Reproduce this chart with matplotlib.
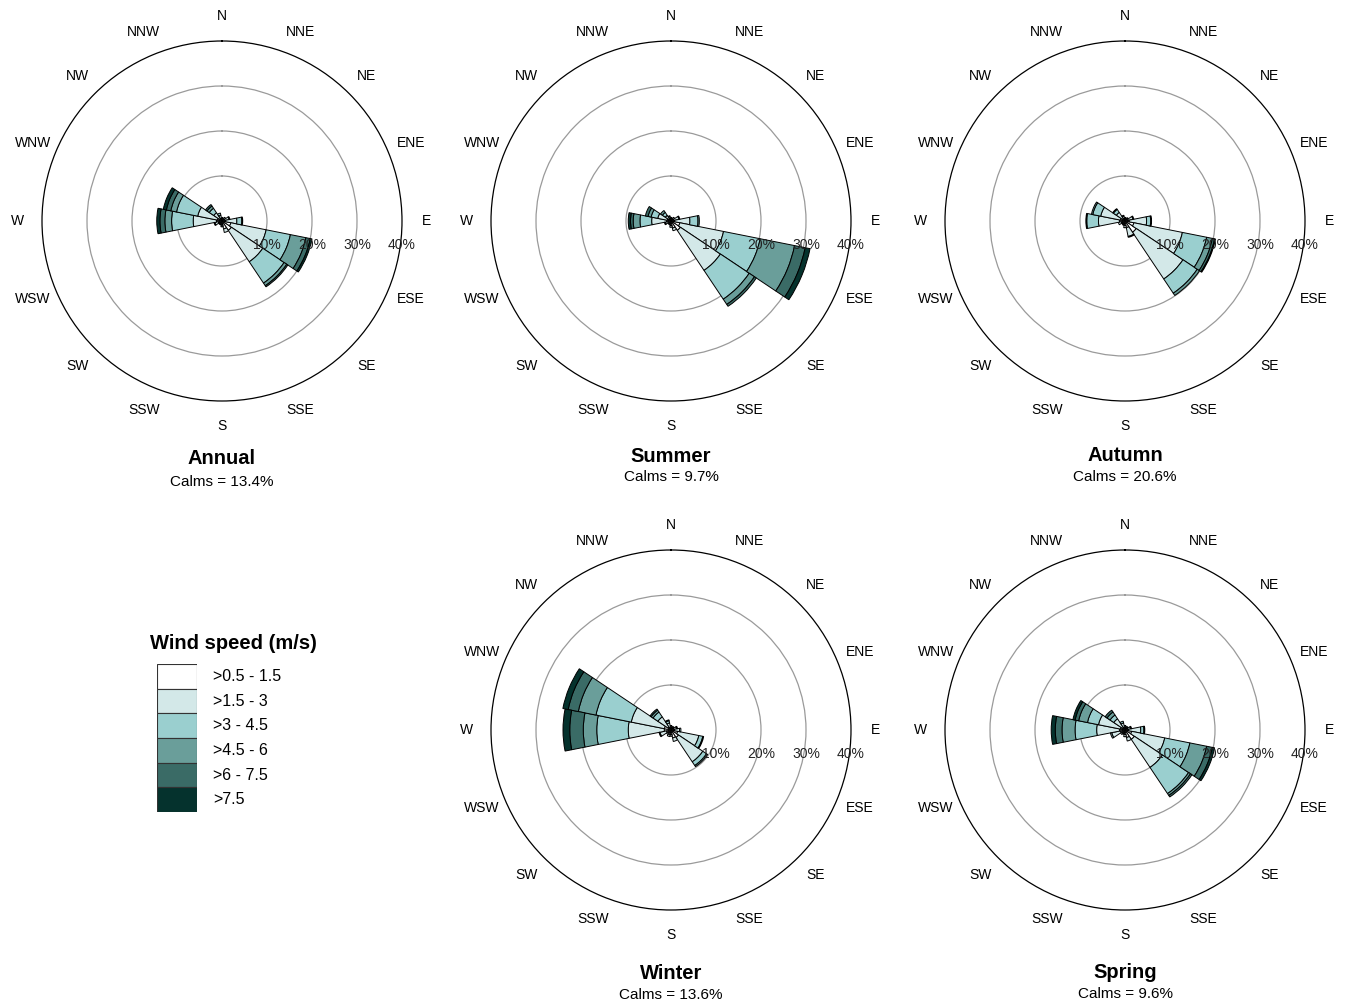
import numpy as np
import matplotlib
matplotlib.use("Agg")
import matplotlib.pyplot as plt
from matplotlib.transforms import offset_copy

plt.rcParams['font.family'] = ['Liberation Sans', 'DejaVu Sans']

# 방향 (N 부터 시계방향)
directions = ["N", "NNE", "NE", "ENE", "E", "ESE", "SE", "SSE",
              "S", "SSW", "SW", "WSW", "W", "WNW", "NW", "NNW"]
speed_bins = [">0.5 - 1.5", ">1.5 - 3", ">3 - 4.5", ">4.5 - 6", ">6 - 7.5", ">7.5"]
colors = ["#ffffff", "#d3e8e8", "#9acfcf", "#6a9e9a", "#3a6b66", "#05322d"]

# 풍속 구간별 빈도 (%) - 행: 풍속 구간, 열: 방향
annual = [
    [0.5, 0.4, 0.5, 0.6, 0.8, 2.0, 2.5, 1.8, 0.9, 0.6, 0.6, 0.8, 1.2, 1.0, 0.6, 0.5],
    [0.3, 0.3, 0.5, 1.0, 2.5, 8.0, 8.4, 0.8, 0.4, 0.3, 0.3, 0.8, 5.2, 4.5, 1.6, 0.8],
    [0, 0, 0, 0.2, 1.1, 5.5, 5.7, 0, 0, 0, 0, 0.2, 4.8, 4.8, 1.2, 0.5],
    [0, 0, 0, 0, 0.2, 3.5, 0.7, 0, 0, 0, 0, 0, 1.5, 1.3, 0.6, 0],
    [0, 0, 0, 0, 0, 1.0, 0.3, 0, 0, 0, 0, 0, 1.1, 1.0, 0.4, 0],
    [0, 0, 0, 0, 0, 0.4, 0, 0, 0, 0, 0, 0, 0.7, 0.7, 0, 0],
]
summer = [
    [0.5, 0.4, 0.5, 0.6, 0.8, 2.0, 2.5, 1.6, 1.0, 0.6, 0.5, 0.7, 1.0, 0.8, 0.5, 0.5],
    [0.3, 0.3, 0.5, 1.2, 3.4, 9.9, 10.7, 0.6, 0.4, 0.3, 0.3, 0.6, 3.3, 2.2, 1.0, 0.5],
    [0, 0, 0, 0.2, 1.8, 8.3, 7.7, 0, 0, 0, 0, 0.2, 2.6, 1.5, 0.8, 0.2],
    [0, 0, 0, 0, 0.3, 7.8, 1.4, 0, 0, 0, 0, 0, 1.5, 0.7, 0.5, 0],
    [0, 0, 0, 0, 0, 2.4, 0.5, 0, 0, 0, 0, 0, 0.6, 0.6, 0, 0],
    [0, 0, 0, 0, 0, 1.1, 0, 0, 0, 0, 0, 0, 0.5, 0, 0, 0],
]
autumn = [
    [0.5, 0.4, 0.5, 0.7, 0.9, 2.0, 3.0, 1.5, 1.0, 0.7, 0.6, 0.8, 1.2, 1.0, 0.6, 0.5],
    [0.3, 0.3, 0.4, 1.1, 3.9, 11.0, 12.5, 2.0, 0.5, 0.3, 0.3, 0.7, 4.7, 4.5, 1.7, 0.6],
    [0, 0, 0, 0.2, 0.9, 5.5, 3.8, 0.2, 0, 0, 0, 0, 2.6, 1.8, 0.8, 0.2],
    [0, 0, 0, 0, 0.2, 1.3, 0.6, 0, 0, 0, 0, 0, 0.2, 0.3, 0.2, 0],
    [0, 0, 0, 0, 0, 0.5, 0, 0, 0, 0, 0, 0, 0, 0, 0, 0],
    [0, 0, 0, 0, 0, 0.2, 0, 0, 0, 0, 0, 0, 0, 0, 0, 0],
]
winter = [
    [0.5, 0.5, 0.5, 0.6, 0.7, 1.5, 2.0, 1.8, 1.0, 1.0, 0.7, 1.0, 1.5, 1.5, 0.7, 0.6],
    [0.5, 0.3, 0.4, 0.7, 1.2, 4.8, 6.5, 0.8, 0.4, 0.5, 0.5, 1.5, 8.0, 7.5, 2.8, 1.0],
    [0, 0, 0, 0.2, 0.3, 0.9, 1.0, 0, 0, 0, 0, 0.2, 7.0, 8.0, 1.3, 0.5],
    [0, 0, 0, 0, 0, 0.2, 0.3, 0, 0, 0, 0, 0, 3.0, 4.0, 0.5, 0.2],
    [0, 0, 0, 0, 0, 0, 0, 0, 0, 0, 0, 0, 3.0, 2.3, 0.3, 0],
    [0, 0, 0, 0, 0, 0, 0, 0, 0, 0, 0, 0, 1.5, 1.2, 0, 0],
]
spring = [
    [0.5, 0.5, 0.5, 0.6, 0.8, 1.5, 2.5, 1.7, 1.0, 0.7, 0.7, 1.0, 1.2, 1.0, 0.6, 0.6],
    [0.5, 0.3, 0.4, 0.7, 2.7, 7.5, 7.5, 0.8, 0.5, 0.3, 0.5, 2.0, 5.1, 5.0, 2.4, 1.0],
    [0, 0, 0, 0.2, 0.7, 5.7, 7.0, 0, 0, 0, 0, 0.3, 4.8, 2.5, 1.0, 0.4],
    [0, 0, 0, 0, 0.2, 3.8, 0.5, 0, 0, 0, 0, 0, 2.9, 2.0, 0.8, 0],
    [0, 0, 0, 0, 0, 1.3, 0.4, 0, 0, 0, 0, 0, 1.5, 0.8, 0.5, 0],
    [0, 0, 0, 0, 0, 0.5, 0, 0, 0, 0, 0, 0, 0.9, 0.5, 0, 0],
]

titles = ["Annual", "Summer", "Autumn", "Winter", "Spring"]
calms = [13.4, 9.7, 20.6, 13.6, 9.6]
seasons = [annual, summer, autumn, winter, spring]
rings = [10, 20, 30, 40]

W, H = 1346, 1005
fig = plt.figure(figsize=(W / 100, H / 100), dpi=100)

# 각 바람장미의 중심(px), 제목 위치(px)
centers = [(222, 221), (671, 221), (1125, 221), (671, 730), (1125, 730)]
title_y = [(459, 482), (456, 477), (455, 477), (973, 995), (972, 994)]
R = 180  # 40% 원 반지름(px)

narrow = ['Liberation Sans Narrow', 'Liberation Sans', 'DejaVu Sans']
theta = np.deg2rad(np.arange(16) * 22.5)
width = np.deg2rad(22.5)

for k in range(5):
    cx, cy = centers[k]
    ax = fig.add_axes([(cx - R) / W, 1 - (cy + R) / H, 2 * R / W, 2 * R / H],
                      projection='polar')
    ax.set_theta_zero_location('N')
    ax.set_theta_direction(-1)
    ax.set_ylim(0, 40)
    ax.set_xticks([])
    ax.set_yticks([10, 20, 30])
    ax.set_yticklabels([])
    ax.tick_params(axis='both', which='both', length=0, width=0)
    ax.yaxis.set_ticks_position('none')
    ax.yaxis.grid(True, color='#9a9a9a', lw=0.9)
    ax.xaxis.grid(False)
    ax.spines['polar'].set_color('black')
    ax.spines['polar'].set_linewidth(0.9)

    data = np.array(seasons[k], dtype=float)
    bottom = np.zeros(16)
    for b in range(6):
        m = data[b] > 0
        ax.bar(theta[m], data[b][m], bottom=bottom[m], width=width,
               color=colors[b], edgecolor='black', linewidth=0.7, zorder=3)
        bottom += data[b]

    # % 라벨
    tr = offset_copy(ax.transData, fig=fig, x=0, y=-24, units='dots')
    for r in rings:
        ax.text(np.pi / 2, r, f"{r}%", transform=tr, ha='center', va='center',
                fontsize=10, color='#222222', zorder=5, clip_on=False)

    # 방위 라벨
    for t, d in zip(theta, directions):
        ax.text(t, 45.5, d, ha='center', va='center', fontsize=10, clip_on=False)

    ty, cyy = title_y[k]
    fig.text(cx / W, 1 - ty / H, titles[k], ha='center', va='center',
             fontsize=14.5, fontweight='bold', family=narrow)
    fig.text(cx / W, 1 - cyy / H, f"Calms = {calms[k]}%", ha='center', va='center',
             fontsize=11, family=narrow)

# 범례
lax = fig.add_axes([157 / W, 1 - 812 / H, 40 / W, 148 / H])
lax.bar(np.zeros(6), np.ones(6), bottom=np.arange(6)[::-1], width=1,
        color=colors, edgecolor='#333333', linewidth=0.8)
lax.set_xlim(-0.5, 0.5)
lax.set_ylim(0, 6)
lax.axis('off')
for i, lab in enumerate(speed_bins):
    lax.text(0.9, 5.5 - i, lab, transform=lax.transData, ha='left', va='center',
             fontsize=11.5, clip_on=False)
fig.text(233 / W, 1 - 643 / H, "Wind speed (m/s)", ha='center', va='center',
         fontsize=14.5, fontweight='bold', family=narrow)

fig.savefig("out.png", dpi=100)
